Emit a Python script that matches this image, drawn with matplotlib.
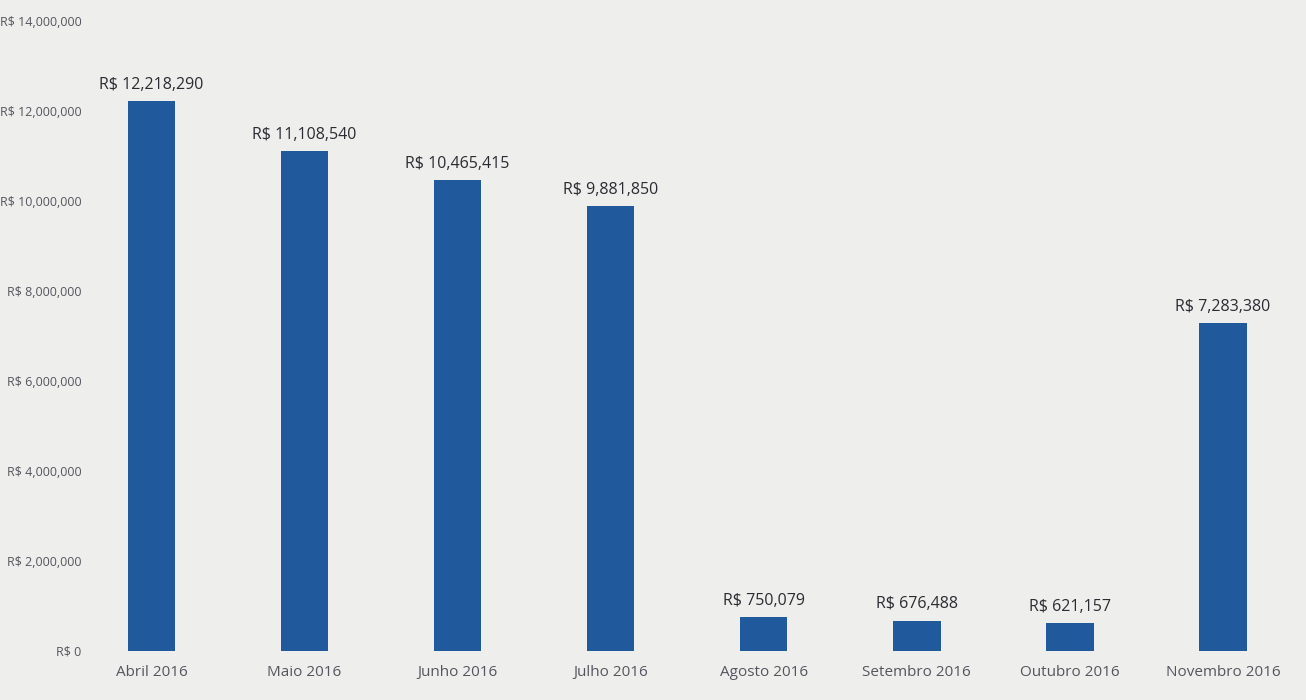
import matplotlib.pyplot as plt
import numpy as np
from matplotlib.ticker import FuncFormatter

months = ['Abril 2016', 'Maio 2016', 'Junho 2016', 'Julho 2016',
          'Agosto 2016', 'Setembro 2016', 'Outubro 2016', 'Novembro 2016']
values = [12218290, 11108540, 10465415, 9881850, 750079, 676488, 621157, 7283380]

plt.rcParams['font.family'] = ['Open Sans', 'DejaVu Sans']

def brl(v, pos=None):
    return 'R$ {:,.0f}'.format(v)

fig, ax = plt.subplots(figsize=(13.06, 7.0), dpi=100)
fig.patch.set_facecolor('#eeeeec')
ax.set_facecolor('#eeeeec')

x = np.arange(len(months))
bars = ax.bar(x, values, width=0.31, color='#215a9c')

for i in range(len(values)):
    ax.text(x[i], values[i] + 180000, brl(values[i]), ha='center', va='bottom',
            fontsize=11.5, color='#2b2b33')

ax.set_xticks(x)
ax.set_xticklabels(months, fontsize=11, color='#55555f')
ax.set_ylim(0, 14000000)
ax.set_yticks(np.arange(0, 14000001, 2000000))
ax.yaxis.set_major_formatter(FuncFormatter(brl))
ax.tick_params(axis='y', labelsize=9, colors='#55555f', length=0, pad=12)
ax.tick_params(axis='x', length=0, pad=10)
ax.set_xlim(-0.35, len(months) - 0.5)

for s in ax.spines.values():
    s.set_visible(False)

plt.subplots_adjust(left=0.075, right=0.995, top=0.97, bottom=0.07)
plt.savefig('out.png', facecolor=fig.get_facecolor())
